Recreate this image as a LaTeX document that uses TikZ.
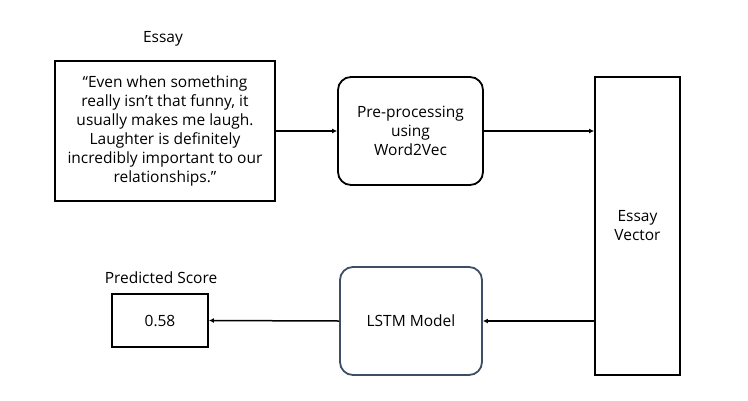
\documentclass[tikz,border=0pt]{standalone}
\usepackage{fontspec}
\setmainfont{Open Sans}
\usetikzlibrary{arrows.meta}
\definecolor{lstmcol}{HTML}{3D4F66}
\tikzset{
  box/.style={draw=black, line width=1.8pt, align=center, inner sep=0pt,
    font=\fontsize{15.5}{19}\selectfont},
  rbox/.style={box, rounded corners=13pt},
  conn/.style={line width=1.5pt, -{Latex[length=5pt,width=5pt]}},
  lbl/.style={font=\fontsize{15.5}{18}\selectfont, inner sep=0pt}
}
\begin{document}
\begin{tikzpicture}[x=1pt,y=-1pt]
\useasboundingbox (0,0) rectangle (748,400);
\fill[white] (0,0) rectangle (748,400);
\node[box, minimum width=220pt, minimum height=140pt] (essay) at (165,131)
  {“Even when something\\really isn’t that funny, it\\usually makes me laugh.\\Laughter is definitely\\incredibly important to our\\relationships.”};
\node[lbl] (essaylbl) at (163,39) {Essay};
\node[rbox, minimum width=145pt, minimum height=108pt] (pre) at (410.5,131)
  {Pre-processing\\using\\Word2Vec};
\node[box, minimum width=85pt, minimum height=298pt] (vec) at (637.5,226)
  {Essay\\Vector};
\node[rbox, draw=lstmcol, minimum width=142pt, minimum height=108pt] (lstm) at (411,321)
  {LSTM Model};
\node[box, minimum width=96pt, minimum height=53pt] (score) at (160,320.5) {0.58};
\node[lbl] (scorelbl) at (161,278) {Predicted Score};
\draw[conn] (essay.east) -- (pre.west);
\draw[conn] (pre.east) -- (pre.east -| vec.west);
\draw[conn] (vec.west |- lstm.east) -- (lstm.east);
\draw[conn] (lstm.west) -- (score.east);
\end{tikzpicture}
\end{document}
